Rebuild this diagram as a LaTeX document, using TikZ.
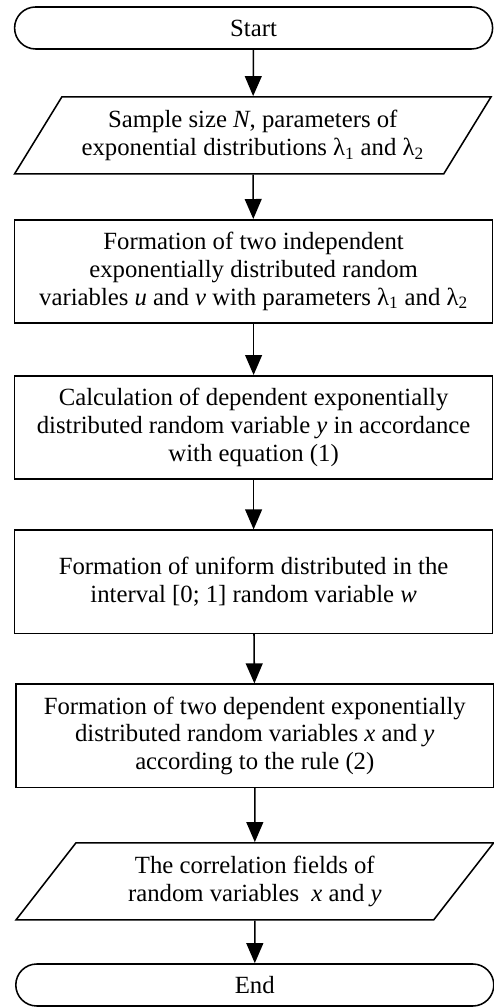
\documentclass[tikz,border=0pt]{standalone}
\usepackage{fontspec}
\setmainfont{Liberation Serif}
\usetikzlibrary{positioning,arrows.meta,shapes.geometric,shapes.misc}

\begin{document}
\begin{tikzpicture}[
  term/.style = {rounded rectangle, draw=black, line width=1.1pt,
                 minimum width=11.95cm, minimum height=1.05cm,
                 inner sep=0pt, align=center},
  io/.style   = {trapezium, trapezium left angle=50, trapezium right angle=130,
                 trapezium stretches=true, draw=black, line width=1.1pt,
                 minimum width=11.95cm, minimum height=1.925cm,
                 inner sep=0pt, align=center},
  proc/.style = {rectangle, draw=black, line width=1.1pt,
                 minimum width=11.95cm, minimum height=2.58cm,
                 inner sep=0pt, align=center},
  arr/.style  = {-{Triangle[length=0.5cm, width=0.42cm]}, line width=1.1pt},
  font=\fontsize{17.6}{19.8}\selectfont,
]
\useasboundingbox (0,0) rectangle (12.325,25.175);
\node[term] (start) at (6.34, 24.475) {Start};
\node[io]   (param) at (6.32, 21.79)  {Sample size \textit{N}, parameters of\\
                                       exponential distributions λ\textsubscript{1} and λ\textsubscript{2}};
\node[proc] (indep) at (6.34, 18.39)  {Formation of two independent\\
                                       exponentially distributed random\\
                                       variables \textit{u} and \textit{v} with parameters λ\textsubscript{1} and λ\textsubscript{2}};
\node[proc] (depy)  at (6.34, 14.49)  {Calculation of dependent exponentially\\
                                       distributed random variable \textit{y} in accordance\\
                                       with equation (1)};
\node[proc] (unif)  at (6.34, 10.63)  {Formation of uniform distributed in the\\
                                       interval [0; 1] random variable \textit{w}};
\node[proc] (depxy) at (6.37, 6.78)   {Formation of two dependent exponentially\\
                                       distributed random variables \textit{x} and \textit{y}\\
                                       according to the rule (2)};
\node[io]   (corr)  at (6.37, 3.14)   {The correlation fields of\\
                                       random variables\ \ \textit{x} and \textit{y}};
\node[term] (stop)  at (6.37, 0.55)   {End};
% main arrows
\draw[arr] (start) -- (param);
\draw[arr] (param) -- (indep);
\draw[arr] (indep) -- (depy);
\draw[arr] (depy)  -- (unif);
\draw[arr] (unif)  -- (depxy);
\draw[arr] (depxy) -- (corr);
\draw[arr] (corr)  -- (stop);
\end{tikzpicture}
\end{document}
